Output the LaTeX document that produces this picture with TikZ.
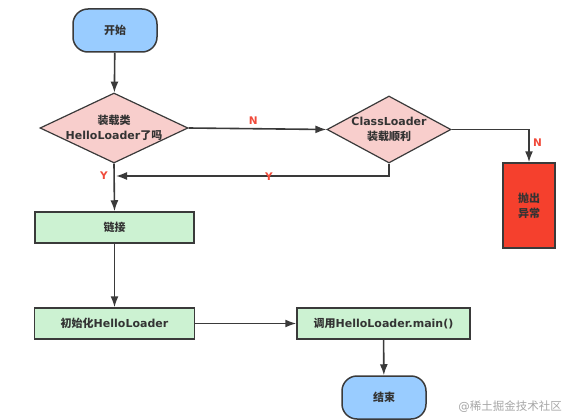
\documentclass[tikz,border=0pt]{standalone}
\usepackage{fontspec}
\usepackage{xcolor}
\setmainfont{DejaVu Sans}
\newfontfamily\cjk{Noto Sans CJK SC}
\usetikzlibrary{shapes.geometric,arrows.meta}
\newcommand{\zh}[1]{{\cjk #1}}
\definecolor{linegray}{HTML}{3A3A3A}
\definecolor{textgray}{HTML}{333333}
\definecolor{termblue}{HTML}{99CCFF}
\definecolor{askpink}{HTML}{F8CECC}
\definecolor{stepgreen}{HTML}{CCF2D2}
\definecolor{failred}{HTML}{F5402D}
\definecolor{labelred}{HTML}{F04A3A}

\begin{document}
\begin{tikzpicture}[x=1pt,y=-1pt,font=\fontsize{11}{15}\selectfont\bfseries,text=textgray]
                \tikzstyle{terminal}=[draw=linegray,line width=1.5pt,fill=termblue,rounded corners=15pt,minimum width=84pt,minimum height=43pt]
                \tikzstyle{decision}=[diamond,draw=linegray,line width=1.2pt,fill=askpink,inner sep=0pt,minimum width=#1]
                \tikzstyle{process}=[rectangle,draw=linegray,line width=1.5pt,fill=stepgreen,minimum height=31pt]
                \tikzstyle{failbox}=[rectangle,draw=linegray,line width=1.5pt,fill=failred,minimum width=52pt,minimum height=85pt,align=center]
                \tikzstyle{flow}=[draw=linegray,line width=1.6pt,-{Latex[length=11pt,width=8pt]}]
                \tikzstyle{yn}=[text=labelred,font=\fontsize{10.5}{12}\selectfont\bfseries]
                \useasboundingbox (0,0) rectangle (568,420);
                % start and first question
                \node(start)[terminal] at (115,30.5){\zh{开始}};
                \node(loaded)[decision=148pt,minimum height=70pt,label={[align=center]center:{\zh{装载类}\\HelloLoader\zh{了吗}}}] at (114,128){};
                \node(okload)[decision=124pt,minimum height=67pt,label={[align=center]center:{ClassLoader\\\zh{装载顺利}}}] at (389,129.5){};
                \node(fail)[failbox] at (529,205.5){\zh{抛出}\\\zh{异常}};
                % main line
                \node(link)[process,minimum width=159pt] at (114.5,227.5){\zh{链接}};
                \node(init)[process,minimum width=160pt] at (114.5,323.5){\zh{初始化}HelloLoader};
                \node(call)[process,minimum width=173pt] at (383.5,323.5){\zh{调用}HelloLoader.main()};
                \node(stop)[terminal] at (384,397.5){\zh{结束}};
                \coordinate(merge) at (116,176);
                \draw[flow] (start) -- (loaded);
                \draw[flow] (loaded.east) -- node[yn,above,pos=0.47]{N} (okload.west);
                \draw[flow] (okload.east) -| node[yn,below right,pos=0.58]{N} (fail.north);
                \draw[flow] (okload.south) |- node[yn,pos=0.72,yshift=-1pt]{Y} (merge);
                \draw[flow] (loaded.south) -- (link.north);
                \node(yes)[yn] at (104,176){Y};
                \draw[flow] (link) -- (init);
                \draw[flow] (init) -- (call);
                \draw[flow] (call) -- (stop);
                \node(mark)[text=gray!70,font=\fontsize{11.5}{13}\selectfont\mdseries] at (510,407){@\zh{稀土掘金技术社区}};
\end{tikzpicture}
\end{document}
